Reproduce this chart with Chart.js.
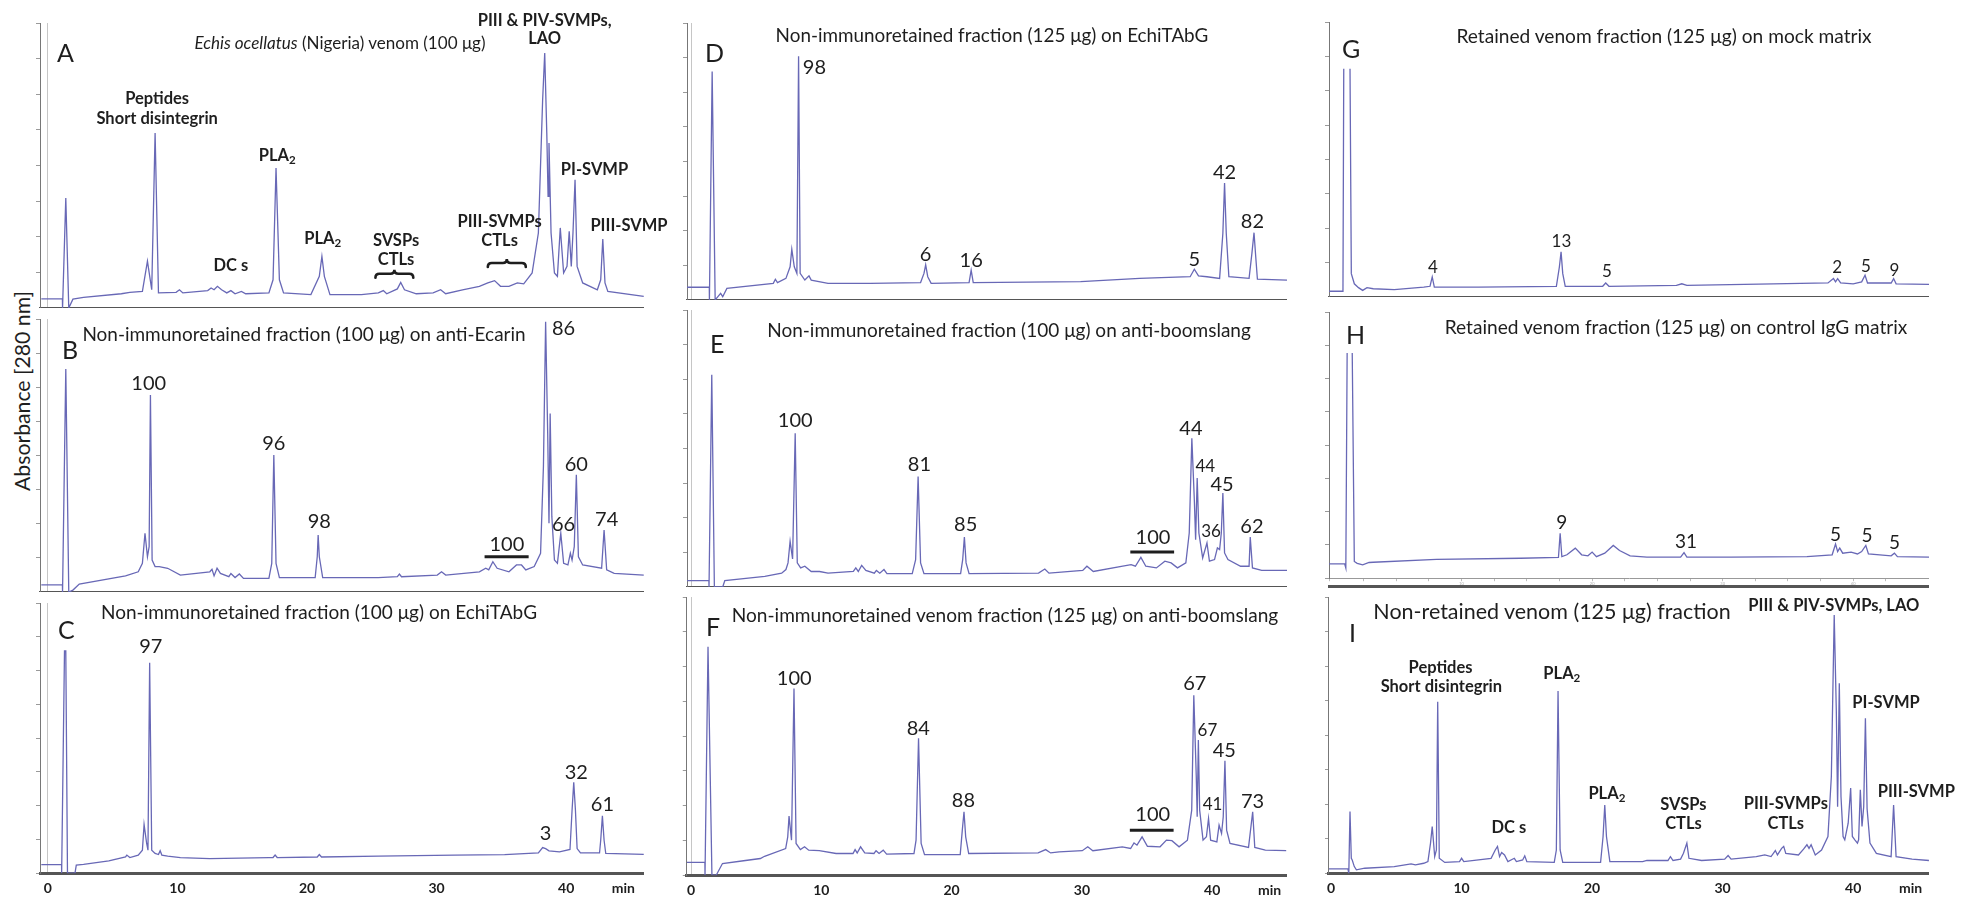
<!DOCTYPE html>
<html>
<head>
<meta charset="utf-8">
<script src="https://cdn.jsdelivr.net/npm/chart.js@4.4.1/dist/chart.umd.min.js"></script>
<style>
  html, body { margin: 0; padding: 0; background: #fff; }
  body { width: 1968px; height: 901px; position: relative; overflow: hidden; font-family: Lato, "Open Sans", sans-serif; color: #1e1e1e; }
  .wrap { position: absolute; }
  .txt { position: absolute; white-space: nowrap; line-height: 1; transform: translate(-50%, -50%); }
  .title { font-size: 18px; }
  .letter { font-size: 25px; transform: translate(0, -50%); }
  .num { font-size: 20px; }
  .small { font-size: 17px; }
  .mid { font-size: 19px; }
  .bold { font-size: 16.5px; font-weight: bold; }
  .ylab { font-size: 19px; transform: translate(-50%, -50%) rotate(-90deg); }
  sub { font-size: 70%; vertical-align: -0.3em; line-height: 0; }
</style>
</head>
<body>
<script>
// time axis range for each column of panels (min)
var colRange = { 1: [-0.6, 46.0], 2: [-0.33, 45.7], 3: [-0.16, 45.81] };
var xTickValues = [0, 10, 20, 30, 40];
var minLabelAt = 44.4;

// traces: [retention time (min), absorbance (% of panel height)]
var traceA = [[-0.5,3.2],[1.13,3.2],[1.14,0],[1.39,38.6],[1.62,0],[1.94,3.1],[2.76,3.7],[5.68,5.0],[6.33,5.5],[7.3,5.8],[7.69,16.4],[8.02,6.4],[8.28,61.4],[8.54,5.3],[9.9,5.5],[10.16,6.4],[10.42,5.3],[12.34,6.1],[12.6,7.0],[12.83,6.4],[13.09,7.6],[13.41,6.4],[13.81,5.3],[14.13,6.1],[14.45,5.0],[14.94,5.8],[15.27,5.0],[17.06,5.3],[17.38,9.9],[17.61,49.1],[17.87,9.9],[18.19,5.3],[20.3,4.7],[20.95,11.1],[21.15,18.1],[21.34,11.1],[21.77,4.7],[24.2,4.7],[25.5,5.3],[25.89,6.1],[26.15,5.0],[26.97,6.7],[27.23,9.0],[27.52,6.4],[28.43,5.0],[29.73,5.3],[30.31,6.4],[30.7,5.0],[32.0,6.4],[33.3,7.6],[33.95,8.8],[34.47,9.6],[34.93,7.6],[35.58,7.6],[36.23,8.8],[36.72,8.5],[37.37,12.3],[37.85,26.3],[38.18,73.1],[38.34,89.5],[38.5,61.4],[38.6,39.2],[38.67,57.9],[38.83,26.3],[39.09,12.3],[39.32,11.1],[39.54,28.1],[39.8,12.3],[40.06,14.6],[40.23,26.9],[40.39,14.6],[40.52,26.3],[40.68,45.0],[40.84,14.6],[41.27,8.8],[42.4,6.4],[42.66,9.9],[42.82,24.2],[42.99,8.8],[43.21,5.8],[45.98,4.1]];
var traceB = [[-0.5,2.6],[1.13,2.6],[1.14,0],[1.39,81.7],[1.62,0],[1.94,0.7],[2.43,2.9],[6.0,5.9],[6.98,7.4],[7.3,10.5],[7.5,21.5],[7.69,12.9],[7.82,16.6],[7.92,72.2],[8.05,11.7],[8.28,9.3],[8.6,9.3],[9.25,8.7],[10.23,6.2],[12.5,7.4],[12.67,8.3],[12.83,5.9],[13.06,8.7],[13.32,6.8],[13.97,5.6],[14.13,6.8],[14.45,5.3],[14.78,6.6],[15.1,5.0],[17.06,5.0],[17.28,10.5],[17.44,50.2],[17.61,10.5],[17.87,5.3],[20.63,5.3],[20.79,12.9],[20.86,20.9],[20.95,12.9],[21.21,5.3],[25.5,5.3],[26.97,5.6],[27.13,6.6],[27.29,5.6],[30.05,6.2],[30.38,7.4],[30.7,6.2],[33.3,7.4],[33.79,8.7],[34.02,8.1],[34.34,11.1],[34.67,8.7],[35.58,7.4],[36.16,9.9],[36.55,9.9],[36.88,8.1],[37.53,9.3],[38.02,14.2],[38.24,45.9],[38.41,99.0],[38.57,58.1],[38.67,25.2],[38.76,65.4],[38.89,27.6],[39.09,11.7],[39.32,10.5],[39.58,21.5],[39.8,10.5],[40.13,9.9],[40.32,14.2],[40.45,11.7],[40.62,16.6],[40.78,42.9],[40.94,12.9],[41.27,9.9],[42.73,8.7],[42.92,22.7],[43.12,8.1],[43.7,6.8],[45.98,6.2]];
var traceC = [[-0.5,3.2],[1.065,3.2],[1.07,0],[1.29,82.3],[1.39,82.3],[1.52,0],[2.1,0],[2.2,3.0],[2.76,3.3],[4.71,4.6],[6.0,6.0],[6.1,6.7],[6.33,5.8],[6.98,6.7],[7.3,8.5],[7.43,18.0],[7.63,11.0],[7.73,8.5],[7.86,77.9],[8.02,8.5],[8.28,7.3],[8.54,6.9],[8.67,8.3],[8.8,6.7],[9.25,6.3],[10.23,5.8],[12.5,5.4],[17.06,5.8],[17.38,5.8],[17.54,6.7],[17.7,5.8],[20.79,6.0],[20.95,6.9],[21.12,6.0],[25.5,6.3],[31.35,6.7],[35.25,6.9],[37.85,7.5],[38.18,9.5],[38.41,9.1],[38.67,8.3],[39.48,7.9],[40.29,8.8],[40.45,23.3],[40.58,33.6],[40.71,23.3],[40.84,9.1],[41.1,7.5],[42.57,7.5],[42.66,12.2],[42.79,21.2],[42.92,12.2],[43.05,7.3],[45.98,7.0]];
var traceD = [[-0.33,4.6],[1.38,4.6],[1.39,0],[1.6,82.5],[1.83,0],[1.93,0.6],[2.25,2.4],[2.41,1.2],[2.73,4.2],[6.29,6.0],[6.45,7.5],[6.61,6.3],[7.26,7.8],[7.58,12.0],[7.71,18.3],[7.9,12.0],[8.1,9.6],[8.23,88.0],[8.35,9.6],[8.71,7.2],[9.03,8.7],[9.2,7.2],[10.49,6.0],[13.72,6.0],[17.59,6.3],[17.85,9.6],[17.98,12.7],[18.14,8.4],[18.4,6.0],[21.31,6.3],[21.47,10.8],[21.63,6.3],[29.87,6.6],[34.39,7.8],[38.27,8.4],[38.59,11.1],[38.91,8.7],[39.56,8.4],[40.53,7.8],[40.78,24.1],[40.91,42.2],[41.04,24.1],[41.24,8.4],[42.79,7.8],[43.01,16.9],[43.17,24.3],[43.3,15.7],[43.43,7.5],[45.7,7.2]];
var traceE = [[-0.33,2.3],[1.35,2.3],[1.36,0],[1.57,76.6],[1.77,0],[2.41,0],[2.57,2.3],[5.64,3.8],[6.93,5.0],[7.26,6.3],[7.42,8.7],[7.58,16.5],[7.77,10.1],[7.97,55.5],[8.13,8.7],[8.39,6.9],[8.71,7.5],[9.2,5.6],[9.84,5.6],[10.49,5.0],[12.43,5.6],[12.62,6.9],[12.81,5.6],[13.07,7.8],[13.39,6.0],[14.04,5.0],[14.2,6.0],[14.46,5.0],[14.78,6.3],[15.01,4.8],[16.95,4.8],[17.21,9.9],[17.4,39.9],[17.59,8.7],[17.85,4.8],[20.66,4.8],[20.82,9.9],[20.95,18.0],[21.08,8.7],[21.31,4.8],[26.64,5.0],[27.12,6.5],[27.44,5.0],[30.03,6.0],[30.35,7.5],[30.84,5.6],[33.1,7.5],[33.74,8.1],[34.07,7.5],[34.49,10.7],[34.87,7.5],[35.68,6.9],[36.33,9.3],[36.81,8.7],[37.3,6.9],[37.94,8.7],[38.2,19.5],[38.4,53.7],[38.59,31.5],[38.69,17.1],[38.81,39.3],[38.94,19.5],[39.23,10.5],[39.56,15.9],[39.75,9.3],[40.14,9.9],[40.36,14.1],[40.53,13.5],[40.66,19.5],[40.78,33.9],[40.91,12.3],[41.17,9.9],[42.14,7.5],[42.79,7.5],[42.88,18.0],[43.05,6.9],[43.76,6.0],[45.7,6.0]];
var traceF = [[-0.33,4.6],[1.06,4.6],[1.07,0],[1.3,82.1],[1.6,0],[1.93,0],[2.41,4.2],[4.03,5.2],[5.32,6.0],[5.64,6.8],[7.26,9.6],[7.42,13.8],[7.52,21.3],[7.71,12.6],[7.9,67.1],[8.06,11.4],[8.39,9.2],[8.71,10.2],[9.03,9.0],[9.84,8.8],[11.13,7.8],[12.43,7.8],[12.59,9.2],[12.75,8.0],[13.01,10.2],[13.33,8.0],[14.04,7.8],[14.2,8.8],[14.43,7.8],[14.75,9.0],[15.01,7.6],[17.11,7.8],[17.27,12.6],[17.46,49.2],[17.66,11.4],[17.92,7.4],[20.66,7.4],[20.82,16.2],[20.95,22.8],[21.08,13.8],[21.31,7.8],[26.64,8.0],[27.22,9.2],[27.6,8.0],[28.25,8.4],[30.03,8.8],[30.45,10.2],[30.84,8.8],[33.1,10.2],[33.74,9.6],[34.0,11.6],[34.23,10.8],[34.62,13.8],[35.03,10.4],[36.0,10.2],[36.49,12.6],[36.91,12.4],[37.46,10.2],[38.1,12.6],[38.43,23.4],[38.59,64.7],[38.78,35.4],[38.85,21.0],[38.94,48.6],[39.04,23.4],[39.3,12.6],[39.56,13.8],[39.72,20.4],[39.88,12.6],[40.36,12.0],[40.53,18.0],[40.72,15.0],[40.85,21.0],[40.98,41.1],[41.11,16.2],[41.37,11.4],[42.79,10.0],[43.11,22.8],[43.27,10.0],[44.08,9.0],[45.7,8.8]];
var traceG = [[-0.16,2.1],[0.91,2.1],[0.97,83.0],[1.2,null],[1.45,83.0],[1.55,8.5],[1.78,4.8],[2.1,3.4],[2.42,2.4],[2.75,3.4],[3.23,3.0],[4.84,2.7],[7.1,3.6],[7.58,3.9],[7.75,7.3],[7.91,3.6],[11.29,3.6],[17.26,3.9],[17.49,10.9],[17.62,16.4],[17.75,8.5],[17.94,3.9],[20.81,3.9],[21.04,5.1],[21.29,3.9],[26.46,4.2],[26.87,4.8],[27.26,4.2],[33.87,4.8],[38.07,5.1],[38.49,6.7],[38.65,5.5],[38.81,6.7],[39.04,5.1],[40.0,4.8],[40.65,5.5],[40.91,7.9],[41.1,5.1],[42.91,5.1],[43.1,6.7],[43.29,4.8],[45.81,4.6]];
var traceH = [[-0.16,5.4],[1.04,5.4],[1.13,3.8],[1.23,84.6],[1.4,null],[1.62,84.6],[1.78,6.3],[2.0,5.6],[2.42,5.0],[2.91,5.9],[3.23,6.0],[8.07,7.1],[14.52,7.5],[17.42,7.8],[17.55,16.9],[17.68,8.1],[18.07,8.8],[18.71,11.3],[19.2,8.8],[19.68,8.4],[20.0,9.8],[20.33,8.1],[20.97,9.4],[21.62,12.3],[22.1,10.4],[22.91,8.4],[24.2,7.9],[26.78,7.9],[27.04,9.6],[27.26,7.9],[30.65,7.9],[36.46,8.1],[38.39,8.8],[38.65,12.8],[38.81,10.0],[38.97,11.3],[39.2,9.4],[39.84,9.8],[40.33,9.1],[40.65,10.0],[40.97,12.3],[41.17,9.1],[42.91,8.4],[43.16,9.4],[43.39,8.1],[45.81,7.9]];
var traceI = [[-0.16,1.6],[1.29,1.6],[1.36,0],[1.45,22.3],[1.55,5.4],[1.62,4.8],[1.78,2.4],[1.94,1.2],[2.58,1.8],[4.84,2.4],[6.13,3.4],[6.46,3.0],[7.1,3.6],[7.42,4.2],[7.62,10.9],[7.75,16.9],[7.94,6.0],[8.07,8.4],[8.17,62.1],[8.29,5.4],[8.71,3.9],[9.84,4.2],[10.0,5.4],[10.17,4.2],[12.26,5.4],[12.58,8.4],[12.75,9.7],[12.91,6.0],[13.07,7.5],[13.29,6.6],[13.55,4.2],[14.04,5.4],[14.2,4.2],[14.68,4.8],[14.84,6.3],[15.0,4.2],[17.1,3.9],[17.26,8.4],[17.39,66.0],[17.55,8.4],[17.75,3.9],[20.65,3.9],[20.84,13.3],[20.97,24.7],[21.1,13.3],[21.36,4.2],[23.87,4.2],[24.2,4.6],[25.81,4.6],[26.0,6.0],[26.2,4.6],[26.78,5.1],[27.0,7.2],[27.26,10.9],[27.42,5.4],[28.39,4.6],[30.16,5.1],[30.42,6.4],[30.65,5.1],[32.58,6.0],[33.23,6.6],[33.71,6.0],[34.04,8.2],[34.2,6.6],[34.52,9.0],[34.68,9.7],[34.84,7.2],[35.81,6.6],[36.2,8.7],[36.46,10.3],[36.62,9.0],[36.78,10.3],[37.1,6.6],[37.58,8.4],[38.07,13.3],[38.33,35.0],[38.55,93.5],[38.71,59.1],[38.81,24.1],[38.94,68.8],[39.07,27.7],[39.23,13.3],[39.36,12.1],[39.62,18.1],[39.81,30.8],[39.94,13.3],[40.13,12.1],[40.33,10.9],[40.42,12.1],[40.55,30.2],[40.68,16.9],[40.81,24.1],[40.94,56.1],[41.07,23.3],[41.29,10.9],[41.78,7.2],[42.91,6.0],[43.1,24.7],[43.29,6.0],[44.52,5.1],[45.81,4.6]];

// peak annotations: [time, absorbance, text, optional style]
var notesA = [[8.44,73.7,'Peptides'],[8.44,66.7,'Short disintegrin'],[17.7,53.8,'PLA<sub>2</sub>'],[14.13,15.0,'DC s'],[21.21,24.6,'PLA<sub>2</sub>'],[26.87,24.0,'SVSPs'],[26.87,17.2,'CTLs'],[34.86,30.4,'PIII-SVMPs'],[34.86,24.0,'CTLs'],[38.34,101.2,'PIII &amp; PIV-SVMPs,'],[38.34,94.7,'LAO'],[42.18,48.8,'PI-SVMP'],[44.84,29.2,'PIII-SVMP']];
var notesB = [[7.79,77.0,'100'],[17.44,55.1,'96'],[20.95,26.4,'98'],[35.42,18.1,'100'],[39.8,97.2,'86'],[39.8,25.2,'66'],[40.78,47.1,'60'],[43.12,27.0,'74']];
var notesC = [[7.95,84.4,'97'],[38.41,15.3,'3'],[40.78,37.8,'32'],[42.79,25.8,'61']];
var notesD = [[9.45,84.6,'98'],[17.98,16.9,'6'],[21.47,14.7,'16'],[38.59,15.1,'5'],[40.91,46.4,'42'],[43.05,28.9,'82']];
var notesE = [[7.97,60.6,'100'],[17.5,44.7,'81'],[21.05,23.1,'85'],[35.42,18.5,'100'],[38.33,57.6,'44'],[39.43,43.9,'44','small'],[39.88,20.4,'36','small'],[40.72,37.7,'45'],[43.01,22.5,'62']];
var notesF = [[7.9,71.3,'100'],[17.43,53.4,'84'],[20.89,27.3,'88'],[35.42,22.2,'100'],[38.65,69.5,'67'],[39.62,52.5,'67','small'],[40.01,26.0,'41','small'],[40.91,45.2,'45'],[43.08,27.2,'73']];
var notesG = [[7.81,11.2,'4'],[17.65,20.6,'13'],[21.13,9.9,'5'],[38.78,11.2,'2'],[40.97,11.5,'5'],[43.17,10.3,'9']];
var notesH = [[17.68,21.3,'9'],[27.2,14.4,'31'],[38.65,16.9,'5'],[41.07,16.5,'5'],[43.16,13.8,'5']];
var notesI = [[8.39,74.8,'Peptides'],[8.45,67.6,'Short disintegrin'],[17.68,72.4,'PLA<sub>2</sub>'],[13.62,16.9,'DC s'],[21.13,29.0,'PLA<sub>2</sub>'],[27.0,25.0,'SVSPs'],[27.0,18.1,'CTLs'],[34.84,25.3,'PIII-SVMPs'],[34.84,18.3,'CTLs'],[38.52,97.1,'PIII &amp; PIV-SVMPs, LAO'],[42.52,62.1,'PI-SVMP'],[44.84,29.6,'PIII-SVMP']];

// underline bars [from, to, level] and braces [from, to, level]
var barsB = [[33.7, 37.1, 12.9]];
var barsE = [[33.68, 37.04, 12.6]];
var barsF = [[33.68, 37.04, 16.2]];
var bracesA = [[25.28, 28.2, 12.0], [33.95, 36.88, 15.8]];

var titles = [
    ['<i>Echis ocellatus</i> (Nigeria) venom (100 \u03bcg)', 340, 43, 291],
    ['Non-immunoretained fraction (100 \u03bcg) on anti-Ecarin', 304, 333, 444],
    ['Non-immunoretained fraction (100 \u03bcg) on EchiTAbG', 319, 611, 436],
    ['Non-immunoretained fraction (125 \u03bcg) on EchiTAbG', 992, 35, 433],
    ['Non-immunoretained fraction (100 \u03bcg) on anti-boomslang', 1009, 330, 484],
    ['Non-immunoretained venom fraction (125 \u03bcg) on anti-boomslang', 1005, 615, 547],
    ['Retained venom fraction (125 \u03bcg) on mock matrix', 1664, 36, 415],
    ['Retained venom fraction (125 \u03bcg) on control IgG matrix', 1676, 327, 463],
    ['Non-retained venom (125 \u03bcg) fraction', 1552, 612, 358]
];
var letters = [['A',57,52],['B',62,349],['C',58,629],['D',705,52],['E',710,343],['F',706,626],['G',1342,48],['H',1346,334],['I',1349,632]];

var panels = [
    { col: 1, box: [40, 23, 644, 308], trace: traceA, notes: notesA, style: 'bold', braces: bracesA, axis: 'none' },
    { col: 1, box: [40, 319, 644, 592], trace: traceB, notes: notesB, style: 'num', bars: barsB, axis: 'none' },
    { col: 1, box: [40, 603, 644, 873], trace: traceC, notes: notesC, style: 'num', axis: 'labels' },
    { col: 2, box: [687, 23, 1287, 300], trace: traceD, notes: notesD, style: 'num', axis: 'none' },
    { col: 2, box: [687, 310, 1287, 587], trace: traceE, notes: notesE, style: 'num', bars: barsE, axis: 'none' },
    { col: 2, box: [687, 597, 1287, 875], trace: traceF, notes: notesF, style: 'num', bars: barsF, axis: 'labels' },
    { col: 3, box: [1329, 22, 1929, 297], trace: traceG, notes: notesG, style: 'small', axis: 'none' },
    { col: 3, box: [1329, 312, 1929, 578], trace: traceH, notes: notesH, style: 'mid', axis: 'ruler' },
    { col: 3, box: [1329, 597, 1929, 873], trace: traceI, notes: notesI, style: 'bold', axis: 'labels' }
];

var lineColor = 'rgb(104,104,182)';
Chart.defaults.font.family = 'Lato';

// curly braces under the "SVSPs / CTLs" style labels
var bracePlugin = {
    id: 'braces',
    afterDatasetsDraw: function (chart, args, opts) {
        var items = opts.items || [];
        var ctx = chart.ctx, sx = chart.scales.x, sy = chart.scales.y;
        ctx.save();
        ctx.strokeStyle = '#1e1e1e';
        ctx.lineWidth = 2.6;
        ctx.lineCap = 'round';
        items.forEach(function (b) {
            var x1 = sx.getPixelForValue(b[0]), x2 = sx.getPixelForValue(b[1]), y = sy.getPixelForValue(b[2]);
            var xm = (x1 + x2) / 2, r = 4;
            ctx.beginPath();
            ctx.moveTo(x1, y + r);
            ctx.quadraticCurveTo(x1, y, x1 + r, y);
            ctx.lineTo(xm - r, y);
            ctx.quadraticCurveTo(xm, y, xm, y - r);
            ctx.quadraticCurveTo(xm, y, xm + r, y);
            ctx.lineTo(x2 - r, y);
            ctx.quadraticCurveTo(x2, y, x2, y + r);
            ctx.stroke();
        });
        ctx.restore();
    }
};

function addText(html, x, y, cls) {
    var d = document.createElement('div');
    d.className = 'txt ' + cls;
    d.innerHTML = html;
    d.style.left = x + 'px';
    d.style.top = y + 'px';
    document.body.appendChild(d);
    return d;
}

function fitWidth(el, target) {
    var w = el.offsetWidth;
    var fs = parseFloat(getComputedStyle(el).fontSize);
    el.style.fontSize = (fs * target / w) + 'px';
}

// move/resize the canvas so the plot area lands on the wanted box
function fitArea(chart, wrap, box) {
    var a = chart.chartArea;
    var w = Math.round(chart.width + (box[2] - box[0]) - (a.right - a.left));
    var h = Math.round(chart.height + (box[3] - box[1]) - (a.bottom - a.top));
    if (w !== chart.width || h !== chart.height) {
        chart.resize(w, h);
    }
    a = chart.chartArea;
    wrap.style.left = (box[0] - a.left) + 'px';
    wrap.style.top = (box[1] - a.top) + 'px';
    return { left: box[0] - a.left, top: box[1] - a.top };
}

function buildPanel(p) {
    var box = p.box;
    var wrap = document.createElement('div');
    wrap.className = 'wrap';
    var canvas = document.createElement('canvas');
    var extraH = p.axis === 'labels' ? 27 : (p.axis === 'ruler' ? 8 : 0);
    canvas.width = box[2] - box[0] + 4;
    canvas.height = box[3] - box[1] + extraH;
    wrap.appendChild(canvas);
    document.body.appendChild(wrap);

    var range = colRange[p.col];
    var datasets = [{ data: p.trace, xAxisID: 'x', yAxisID: 'y', borderColor: lineColor, borderWidth: 1.3, pointRadius: 0, tension: 0, spanGaps: false }];
    (p.bars || []).forEach(function (bar) {
        datasets.push({ data: [[bar[0], bar[2]], [bar[1], bar[2]]], xAxisID: 'x', yAxisID: 'y', borderColor: '#1e1e1e', borderWidth: 3, pointRadius: 0 });
    });

    var scales = {};
    if (p.axis === 'ruler') {
        scales.x = {
            type: 'linear', min: range[0], max: range[1],
            ticks: { display: true, stepSize: 2.5, autoSkip: false, maxRotation: 0, padding: 0, color: '#aaa', font: { size: 4 },
                callback: function (v) { return v % 10 === 0 && v > 0 ? v : ''; } },
            grid: { display: true, drawOnChartArea: false, drawTicks: true, tickLength: 3, color: '#bbb' },
            border: { display: true, color: '#999', width: 1 }
        };
        scales.x2 = {
            type: 'linear', position: 'bottom', min: 0, max: 1, display: true,
            ticks: { display: false }, grid: { display: false },
            border: { display: true, color: '#555', width: 3 }
        };
    } else {
        scales.x = {
            type: 'linear', min: range[0], max: range[1],
            afterBuildTicks: function (scale) {
                var vals = xTickValues.slice();
                if (p.axis === 'labels') vals.push(minLabelAt);
                scale.ticks = vals.map(function (v) { return { value: v }; });
            },
            ticks: { display: p.axis === 'labels', autoSkip: false, maxRotation: 0, padding: 7, color: '#1e1e1e',
                font: { size: 14, weight: 'bold' },
                callback: function (v) { return v === minLabelAt ? 'min' : v; } },
            grid: { display: true, drawTicks: false, lineWidth: 1,
                color: function (ctx) { return (p.col !== 3 && ctx.tick && ctx.tick.value === 0) ? '#c6c6c6' : 'rgba(0,0,0,0)'; } },
            border: { display: true, color: '#555', width: 3 }
        };
    }
    scales.y = {
        min: 0, max: 100,
        ticks: { display: false, stepSize: 12.5 },
        grid: { display: true, drawOnChartArea: false, drawTicks: true, tickLength: 4, color: '#9a9a9a' },
        border: { display: true, color: '#777', width: 1 }
    };

    var chart = new Chart(canvas.getContext('2d'), {
        type: 'line',
        data: { datasets: datasets },
        plugins: [bracePlugin],
        options: {
            responsive: false,
            maintainAspectRatio: false,
            animation: false,
            events: [],
            layout: { padding: 0, autoPadding: false },
            plugins: { legend: { display: false }, tooltip: { enabled: false }, braces: { items: p.braces || [] } },
            scales: scales
        }
    });

    var off = fitArea(chart, wrap, box);
    var sx = chart.scales.x, sy = chart.scales.y;

    p.notes.forEach(function (n) {
        addText(n[2], off.left + sx.getPixelForValue(n[0]), off.top + sy.getPixelForValue(n[1]), n[3] || p.style);
    });
}

panels.forEach(buildPanel);

titles.forEach(function (t) {
    var d = addText(t[0], t[1], t[2], 'title');
    fitWidth(d, t[3]);
});
letters.forEach(function (l) {
    addText(l[0], l[1], l[2], 'letter');
});
var ylab = addText('Absorbance [280 nm]', 23, 391, 'ylab');
fitWidth(ylab, 200);
</script>
</body>
</html>
